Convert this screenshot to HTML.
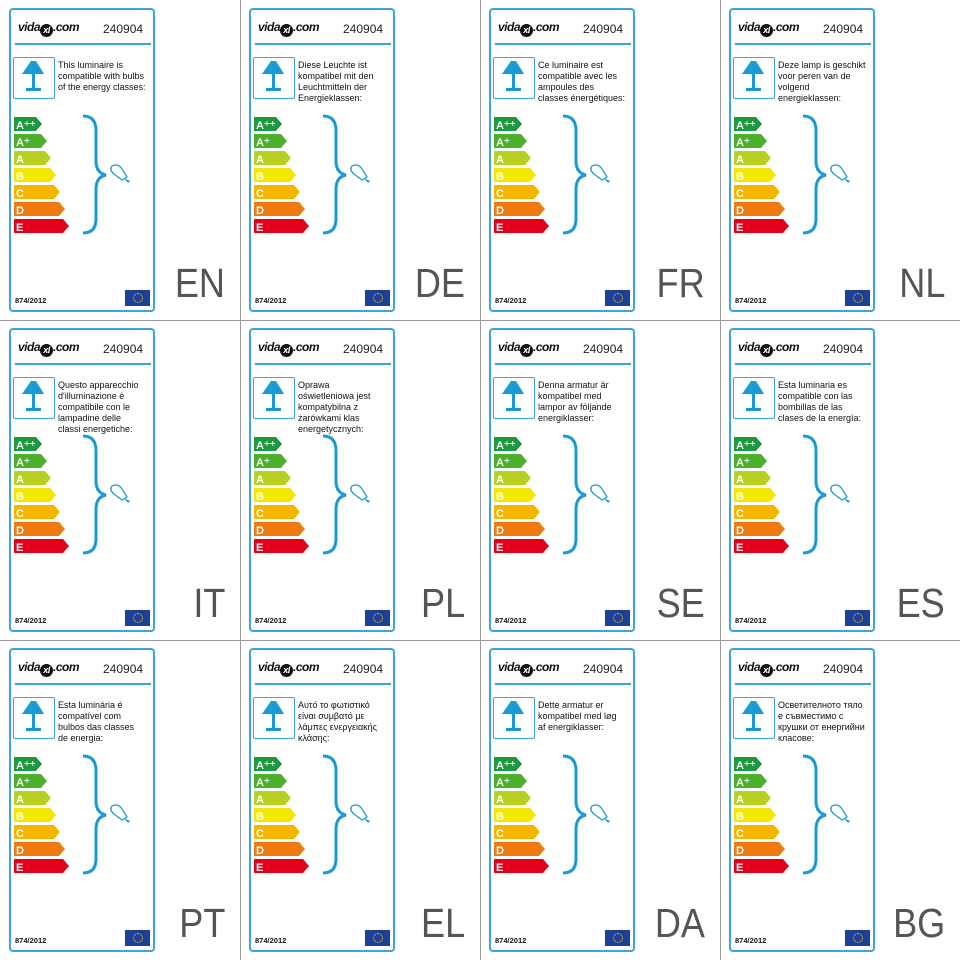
<!DOCTYPE html>
<html><head><meta charset="utf-8"><style>
body{margin:0;width:960px;height:960px;background:#fff;position:relative;overflow:hidden;font-family:"Liberation Sans","Noto Sans CJK SC",sans-serif}
.c{position:absolute;width:240px;height:320px}
.card{position:absolute;left:9px;top:8px;width:142px;height:300px;border:2px solid #3aa6dc;border-radius:4px}
.logo{position:absolute;left:18px;top:20px;font:italic bold 12px "Liberation Sans",sans-serif;color:#111;letter-spacing:-0.5px}
.logo i{display:inline-block;width:13px;height:13px;border-radius:50%;background:#111;color:#fff;font-size:9px;text-align:center;line-height:13px;vertical-align:-2px}
.num{position:absolute;left:103px;top:22px;font-size:12px;color:#222}
.hl{position:absolute;left:15px;top:43px;width:136px;height:2px;background:#3aa6dc}
.lamp{position:absolute;left:13px;top:57px;width:40px;height:40px;border:1.5px solid #3aa6dc;border-radius:2px}
.t{position:absolute;left:58px;top:60px;width:88px;font-size:9px;line-height:11px;color:#111}
.reg{position:absolute;left:15px;top:296px;font-size:7.5px;font-weight:bold;color:#111}
.eu{position:absolute;left:125px;top:290px;width:25px;height:16px;background:#1d3f9c}
.eu:after{content:"";position:absolute;left:8px;top:3px;width:8px;height:8px;border:1px dotted #ffdd00;border-radius:50%}
.lg{position:absolute;right:15px;top:260px;font-size:41px;color:#555;font-family:"Liberation Sans",sans-serif;transform:scaleX(0.88);transform-origin:right}
svg.a{position:absolute;left:0;top:0}
.gl{position:absolute;background:#999}
</style></head><body>
<div class="gl" style="left:240px;top:0;width:1px;height:960px"></div>
<div class="gl" style="left:480px;top:0;width:1px;height:960px"></div>
<div class="gl" style="left:720px;top:0;width:1px;height:960px"></div>
<div class="gl" style="left:0;top:320px;width:960px;height:1px"></div>
<div class="gl" style="left:0;top:640px;width:960px;height:1px"></div>

<div class="c" style="left:0;top:0"><div class="card"></div><div class="logo">vida<i>xl</i>.com</div><div class="num">240904</div><div class="hl"></div><div class="lamp"></div><div class="t">This luminaire is compatible with bulbs of the energy classes:</div><div class="reg">874/2012</div><div class="eu"></div><div class="lg">EN</div>
<svg class="a" width="240" height="320"><g font-family="Liberation Sans" font-weight="bold" font-size="11" fill="#fff"><path d="M14 117h22l6 7-6 7H14z" fill="#1a9a3a"/><text x="16" y="129">A⁺⁺</text><path d="M14 134h27l6 7-6 7H14z" fill="#4caf2c"/><text x="16" y="146">A⁺</text><path d="M14 151h31l6 7-6 7H14z" fill="#b8d020"/><text x="16" y="163">A</text><path d="M14 168h36l6 7-6 7H14z" fill="#f5e800"/><text x="16" y="180">B</text><path d="M14 185h40l6 7-6 7H14z" fill="#f7b500"/><text x="16" y="197">C</text><path d="M14 202h45l6 7-6 7H14z" fill="#ee7a10"/><text x="16" y="214">D</text><path d="M14 219h49l6 7-6 7H14z" fill="#e2001a"/><text x="16" y="231">E</text></g><path d="M83 116q13 0 13 15v30q0 12 10 14q-10 2-10 14v30q0 14-13 14" fill="none" stroke="#1a9ad6" stroke-width="3"/><g fill="none" stroke="#1a9ad6" stroke-width="1.3"><path d="M112 166q6-3 10 3l5 8-5 3-8-6q-5-4-2-8z"/></g><path d="M124 178l4 5 2-2z" fill="#1a9ad6"/><path d="M31 61l-9 13h22l-8-13z M32 74h3v14h-3z M26 88h15v3H26z" fill="#1a9ad6"/></svg></div>

<div class="c" style="left:240px;top:0"><div class="card"></div><div class="logo">vida<i>xl</i>.com</div><div class="num">240904</div><div class="hl"></div><div class="lamp"></div><div class="t">Diese Leuchte ist kompatibel mit den Leuchtmitteln der Energieklassen:</div><div class="reg">874/2012</div><div class="eu"></div><div class="lg">DE</div>
<svg class="a" width="240" height="320"><g font-family="Liberation Sans" font-weight="bold" font-size="11" fill="#fff"><path d="M14 117h22l6 7-6 7H14z" fill="#1a9a3a"/><text x="16" y="129">A⁺⁺</text><path d="M14 134h27l6 7-6 7H14z" fill="#4caf2c"/><text x="16" y="146">A⁺</text><path d="M14 151h31l6 7-6 7H14z" fill="#b8d020"/><text x="16" y="163">A</text><path d="M14 168h36l6 7-6 7H14z" fill="#f5e800"/><text x="16" y="180">B</text><path d="M14 185h40l6 7-6 7H14z" fill="#f7b500"/><text x="16" y="197">C</text><path d="M14 202h45l6 7-6 7H14z" fill="#ee7a10"/><text x="16" y="214">D</text><path d="M14 219h49l6 7-6 7H14z" fill="#e2001a"/><text x="16" y="231">E</text></g><path d="M83 116q13 0 13 15v30q0 12 10 14q-10 2-10 14v30q0 14-13 14" fill="none" stroke="#1a9ad6" stroke-width="3"/><g fill="none" stroke="#1a9ad6" stroke-width="1.3"><path d="M112 166q6-3 10 3l5 8-5 3-8-6q-5-4-2-8z"/></g><path d="M124 178l4 5 2-2z" fill="#1a9ad6"/><path d="M31 61l-9 13h22l-8-13z M32 74h3v14h-3z M26 88h15v3H26z" fill="#1a9ad6"/></svg></div>

<div class="c" style="left:480px;top:0"><div class="card"></div><div class="logo">vida<i>xl</i>.com</div><div class="num">240904</div><div class="hl"></div><div class="lamp"></div><div class="t">Ce luminaire est compatible avec les ampoules des classes énergétiques:</div><div class="reg">874/2012</div><div class="eu"></div><div class="lg">FR</div>
<svg class="a" width="240" height="320"><g font-family="Liberation Sans" font-weight="bold" font-size="11" fill="#fff"><path d="M14 117h22l6 7-6 7H14z" fill="#1a9a3a"/><text x="16" y="129">A⁺⁺</text><path d="M14 134h27l6 7-6 7H14z" fill="#4caf2c"/><text x="16" y="146">A⁺</text><path d="M14 151h31l6 7-6 7H14z" fill="#b8d020"/><text x="16" y="163">A</text><path d="M14 168h36l6 7-6 7H14z" fill="#f5e800"/><text x="16" y="180">B</text><path d="M14 185h40l6 7-6 7H14z" fill="#f7b500"/><text x="16" y="197">C</text><path d="M14 202h45l6 7-6 7H14z" fill="#ee7a10"/><text x="16" y="214">D</text><path d="M14 219h49l6 7-6 7H14z" fill="#e2001a"/><text x="16" y="231">E</text></g><path d="M83 116q13 0 13 15v30q0 12 10 14q-10 2-10 14v30q0 14-13 14" fill="none" stroke="#1a9ad6" stroke-width="3"/><g fill="none" stroke="#1a9ad6" stroke-width="1.3"><path d="M112 166q6-3 10 3l5 8-5 3-8-6q-5-4-2-8z"/></g><path d="M124 178l4 5 2-2z" fill="#1a9ad6"/><path d="M31 61l-9 13h22l-8-13z M32 74h3v14h-3z M26 88h15v3H26z" fill="#1a9ad6"/></svg></div>

<div class="c" style="left:720px;top:0"><div class="card"></div><div class="logo">vida<i>xl</i>.com</div><div class="num">240904</div><div class="hl"></div><div class="lamp"></div><div class="t">Deze lamp is geschikt voor peren van de volgend energieklassen:</div><div class="reg">874/2012</div><div class="eu"></div><div class="lg">NL</div>
<svg class="a" width="240" height="320"><g font-family="Liberation Sans" font-weight="bold" font-size="11" fill="#fff"><path d="M14 117h22l6 7-6 7H14z" fill="#1a9a3a"/><text x="16" y="129">A⁺⁺</text><path d="M14 134h27l6 7-6 7H14z" fill="#4caf2c"/><text x="16" y="146">A⁺</text><path d="M14 151h31l6 7-6 7H14z" fill="#b8d020"/><text x="16" y="163">A</text><path d="M14 168h36l6 7-6 7H14z" fill="#f5e800"/><text x="16" y="180">B</text><path d="M14 185h40l6 7-6 7H14z" fill="#f7b500"/><text x="16" y="197">C</text><path d="M14 202h45l6 7-6 7H14z" fill="#ee7a10"/><text x="16" y="214">D</text><path d="M14 219h49l6 7-6 7H14z" fill="#e2001a"/><text x="16" y="231">E</text></g><path d="M83 116q13 0 13 15v30q0 12 10 14q-10 2-10 14v30q0 14-13 14" fill="none" stroke="#1a9ad6" stroke-width="3"/><g fill="none" stroke="#1a9ad6" stroke-width="1.3"><path d="M112 166q6-3 10 3l5 8-5 3-8-6q-5-4-2-8z"/></g><path d="M124 178l4 5 2-2z" fill="#1a9ad6"/><path d="M31 61l-9 13h22l-8-13z M32 74h3v14h-3z M26 88h15v3H26z" fill="#1a9ad6"/></svg></div>

<div class="c" style="left:0;top:320px"><div class="card"></div><div class="logo">vida<i>xl</i>.com</div><div class="num">240904</div><div class="hl"></div><div class="lamp"></div><div class="t">Questo apparecchio d'illuminazione è compatibile con le lampadine delle classi energetiche:</div><div class="reg">874/2012</div><div class="eu"></div><div class="lg">IT</div>
<svg class="a" width="240" height="320"><g font-family="Liberation Sans" font-weight="bold" font-size="11" fill="#fff"><path d="M14 117h22l6 7-6 7H14z" fill="#1a9a3a"/><text x="16" y="129">A⁺⁺</text><path d="M14 134h27l6 7-6 7H14z" fill="#4caf2c"/><text x="16" y="146">A⁺</text><path d="M14 151h31l6 7-6 7H14z" fill="#b8d020"/><text x="16" y="163">A</text><path d="M14 168h36l6 7-6 7H14z" fill="#f5e800"/><text x="16" y="180">B</text><path d="M14 185h40l6 7-6 7H14z" fill="#f7b500"/><text x="16" y="197">C</text><path d="M14 202h45l6 7-6 7H14z" fill="#ee7a10"/><text x="16" y="214">D</text><path d="M14 219h49l6 7-6 7H14z" fill="#e2001a"/><text x="16" y="231">E</text></g><path d="M83 116q13 0 13 15v30q0 12 10 14q-10 2-10 14v30q0 14-13 14" fill="none" stroke="#1a9ad6" stroke-width="3"/><g fill="none" stroke="#1a9ad6" stroke-width="1.3"><path d="M112 166q6-3 10 3l5 8-5 3-8-6q-5-4-2-8z"/></g><path d="M124 178l4 5 2-2z" fill="#1a9ad6"/><path d="M31 61l-9 13h22l-8-13z M32 74h3v14h-3z M26 88h15v3H26z" fill="#1a9ad6"/></svg></div>

<div class="c" style="left:240px;top:320px"><div class="card"></div><div class="logo">vida<i>xl</i>.com</div><div class="num">240904</div><div class="hl"></div><div class="lamp"></div><div class="t">Oprawa oświetleniowa jest kompatybilna z żarówkami klas energetycznych:</div><div class="reg">874/2012</div><div class="eu"></div><div class="lg">PL</div>
<svg class="a" width="240" height="320"><g font-family="Liberation Sans" font-weight="bold" font-size="11" fill="#fff"><path d="M14 117h22l6 7-6 7H14z" fill="#1a9a3a"/><text x="16" y="129">A⁺⁺</text><path d="M14 134h27l6 7-6 7H14z" fill="#4caf2c"/><text x="16" y="146">A⁺</text><path d="M14 151h31l6 7-6 7H14z" fill="#b8d020"/><text x="16" y="163">A</text><path d="M14 168h36l6 7-6 7H14z" fill="#f5e800"/><text x="16" y="180">B</text><path d="M14 185h40l6 7-6 7H14z" fill="#f7b500"/><text x="16" y="197">C</text><path d="M14 202h45l6 7-6 7H14z" fill="#ee7a10"/><text x="16" y="214">D</text><path d="M14 219h49l6 7-6 7H14z" fill="#e2001a"/><text x="16" y="231">E</text></g><path d="M83 116q13 0 13 15v30q0 12 10 14q-10 2-10 14v30q0 14-13 14" fill="none" stroke="#1a9ad6" stroke-width="3"/><g fill="none" stroke="#1a9ad6" stroke-width="1.3"><path d="M112 166q6-3 10 3l5 8-5 3-8-6q-5-4-2-8z"/></g><path d="M124 178l4 5 2-2z" fill="#1a9ad6"/><path d="M31 61l-9 13h22l-8-13z M32 74h3v14h-3z M26 88h15v3H26z" fill="#1a9ad6"/></svg></div>

<div class="c" style="left:480px;top:320px"><div class="card"></div><div class="logo">vida<i>xl</i>.com</div><div class="num">240904</div><div class="hl"></div><div class="lamp"></div><div class="t">Denna armatur är kompatibel med lampor av följande energiklasser:</div><div class="reg">874/2012</div><div class="eu"></div><div class="lg">SE</div>
<svg class="a" width="240" height="320"><g font-family="Liberation Sans" font-weight="bold" font-size="11" fill="#fff"><path d="M14 117h22l6 7-6 7H14z" fill="#1a9a3a"/><text x="16" y="129">A⁺⁺</text><path d="M14 134h27l6 7-6 7H14z" fill="#4caf2c"/><text x="16" y="146">A⁺</text><path d="M14 151h31l6 7-6 7H14z" fill="#b8d020"/><text x="16" y="163">A</text><path d="M14 168h36l6 7-6 7H14z" fill="#f5e800"/><text x="16" y="180">B</text><path d="M14 185h40l6 7-6 7H14z" fill="#f7b500"/><text x="16" y="197">C</text><path d="M14 202h45l6 7-6 7H14z" fill="#ee7a10"/><text x="16" y="214">D</text><path d="M14 219h49l6 7-6 7H14z" fill="#e2001a"/><text x="16" y="231">E</text></g><path d="M83 116q13 0 13 15v30q0 12 10 14q-10 2-10 14v30q0 14-13 14" fill="none" stroke="#1a9ad6" stroke-width="3"/><g fill="none" stroke="#1a9ad6" stroke-width="1.3"><path d="M112 166q6-3 10 3l5 8-5 3-8-6q-5-4-2-8z"/></g><path d="M124 178l4 5 2-2z" fill="#1a9ad6"/><path d="M31 61l-9 13h22l-8-13z M32 74h3v14h-3z M26 88h15v3H26z" fill="#1a9ad6"/></svg></div>

<div class="c" style="left:720px;top:320px"><div class="card"></div><div class="logo">vida<i>xl</i>.com</div><div class="num">240904</div><div class="hl"></div><div class="lamp"></div><div class="t">Esta luminaria es compatible con las bombillas de las clases de la energía:</div><div class="reg">874/2012</div><div class="eu"></div><div class="lg">ES</div>
<svg class="a" width="240" height="320"><g font-family="Liberation Sans" font-weight="bold" font-size="11" fill="#fff"><path d="M14 117h22l6 7-6 7H14z" fill="#1a9a3a"/><text x="16" y="129">A⁺⁺</text><path d="M14 134h27l6 7-6 7H14z" fill="#4caf2c"/><text x="16" y="146">A⁺</text><path d="M14 151h31l6 7-6 7H14z" fill="#b8d020"/><text x="16" y="163">A</text><path d="M14 168h36l6 7-6 7H14z" fill="#f5e800"/><text x="16" y="180">B</text><path d="M14 185h40l6 7-6 7H14z" fill="#f7b500"/><text x="16" y="197">C</text><path d="M14 202h45l6 7-6 7H14z" fill="#ee7a10"/><text x="16" y="214">D</text><path d="M14 219h49l6 7-6 7H14z" fill="#e2001a"/><text x="16" y="231">E</text></g><path d="M83 116q13 0 13 15v30q0 12 10 14q-10 2-10 14v30q0 14-13 14" fill="none" stroke="#1a9ad6" stroke-width="3"/><g fill="none" stroke="#1a9ad6" stroke-width="1.3"><path d="M112 166q6-3 10 3l5 8-5 3-8-6q-5-4-2-8z"/></g><path d="M124 178l4 5 2-2z" fill="#1a9ad6"/><path d="M31 61l-9 13h22l-8-13z M32 74h3v14h-3z M26 88h15v3H26z" fill="#1a9ad6"/></svg></div>

<div class="c" style="left:0;top:640px"><div class="card"></div><div class="logo">vida<i>xl</i>.com</div><div class="num">240904</div><div class="hl"></div><div class="lamp"></div><div class="t">Esta luminária é compatível com bulbos das classes de energia:</div><div class="reg">874/2012</div><div class="eu"></div><div class="lg">PT</div>
<svg class="a" width="240" height="320"><g font-family="Liberation Sans" font-weight="bold" font-size="11" fill="#fff"><path d="M14 117h22l6 7-6 7H14z" fill="#1a9a3a"/><text x="16" y="129">A⁺⁺</text><path d="M14 134h27l6 7-6 7H14z" fill="#4caf2c"/><text x="16" y="146">A⁺</text><path d="M14 151h31l6 7-6 7H14z" fill="#b8d020"/><text x="16" y="163">A</text><path d="M14 168h36l6 7-6 7H14z" fill="#f5e800"/><text x="16" y="180">B</text><path d="M14 185h40l6 7-6 7H14z" fill="#f7b500"/><text x="16" y="197">C</text><path d="M14 202h45l6 7-6 7H14z" fill="#ee7a10"/><text x="16" y="214">D</text><path d="M14 219h49l6 7-6 7H14z" fill="#e2001a"/><text x="16" y="231">E</text></g><path d="M83 116q13 0 13 15v30q0 12 10 14q-10 2-10 14v30q0 14-13 14" fill="none" stroke="#1a9ad6" stroke-width="3"/><g fill="none" stroke="#1a9ad6" stroke-width="1.3"><path d="M112 166q6-3 10 3l5 8-5 3-8-6q-5-4-2-8z"/></g><path d="M124 178l4 5 2-2z" fill="#1a9ad6"/><path d="M31 61l-9 13h22l-8-13z M32 74h3v14h-3z M26 88h15v3H26z" fill="#1a9ad6"/></svg></div>

<div class="c" style="left:240px;top:640px"><div class="card"></div><div class="logo">vida<i>xl</i>.com</div><div class="num">240904</div><div class="hl"></div><div class="lamp"></div><div class="t">Αυτό το φωτιστικό είναι συμβατό με λάμπες ενεργειακής κλάσης:</div><div class="reg">874/2012</div><div class="eu"></div><div class="lg">EL</div>
<svg class="a" width="240" height="320"><g font-family="Liberation Sans" font-weight="bold" font-size="11" fill="#fff"><path d="M14 117h22l6 7-6 7H14z" fill="#1a9a3a"/><text x="16" y="129">A⁺⁺</text><path d="M14 134h27l6 7-6 7H14z" fill="#4caf2c"/><text x="16" y="146">A⁺</text><path d="M14 151h31l6 7-6 7H14z" fill="#b8d020"/><text x="16" y="163">A</text><path d="M14 168h36l6 7-6 7H14z" fill="#f5e800"/><text x="16" y="180">B</text><path d="M14 185h40l6 7-6 7H14z" fill="#f7b500"/><text x="16" y="197">C</text><path d="M14 202h45l6 7-6 7H14z" fill="#ee7a10"/><text x="16" y="214">D</text><path d="M14 219h49l6 7-6 7H14z" fill="#e2001a"/><text x="16" y="231">E</text></g><path d="M83 116q13 0 13 15v30q0 12 10 14q-10 2-10 14v30q0 14-13 14" fill="none" stroke="#1a9ad6" stroke-width="3"/><g fill="none" stroke="#1a9ad6" stroke-width="1.3"><path d="M112 166q6-3 10 3l5 8-5 3-8-6q-5-4-2-8z"/></g><path d="M124 178l4 5 2-2z" fill="#1a9ad6"/><path d="M31 61l-9 13h22l-8-13z M32 74h3v14h-3z M26 88h15v3H26z" fill="#1a9ad6"/></svg></div>

<div class="c" style="left:480px;top:640px"><div class="card"></div><div class="logo">vida<i>xl</i>.com</div><div class="num">240904</div><div class="hl"></div><div class="lamp"></div><div class="t">Dette armatur er kompatibel med løg af energiklasser:</div><div class="reg">874/2012</div><div class="eu"></div><div class="lg">DA</div>
<svg class="a" width="240" height="320"><g font-family="Liberation Sans" font-weight="bold" font-size="11" fill="#fff"><path d="M14 117h22l6 7-6 7H14z" fill="#1a9a3a"/><text x="16" y="129">A⁺⁺</text><path d="M14 134h27l6 7-6 7H14z" fill="#4caf2c"/><text x="16" y="146">A⁺</text><path d="M14 151h31l6 7-6 7H14z" fill="#b8d020"/><text x="16" y="163">A</text><path d="M14 168h36l6 7-6 7H14z" fill="#f5e800"/><text x="16" y="180">B</text><path d="M14 185h40l6 7-6 7H14z" fill="#f7b500"/><text x="16" y="197">C</text><path d="M14 202h45l6 7-6 7H14z" fill="#ee7a10"/><text x="16" y="214">D</text><path d="M14 219h49l6 7-6 7H14z" fill="#e2001a"/><text x="16" y="231">E</text></g><path d="M83 116q13 0 13 15v30q0 12 10 14q-10 2-10 14v30q0 14-13 14" fill="none" stroke="#1a9ad6" stroke-width="3"/><g fill="none" stroke="#1a9ad6" stroke-width="1.3"><path d="M112 166q6-3 10 3l5 8-5 3-8-6q-5-4-2-8z"/></g><path d="M124 178l4 5 2-2z" fill="#1a9ad6"/><path d="M31 61l-9 13h22l-8-13z M32 74h3v14h-3z M26 88h15v3H26z" fill="#1a9ad6"/></svg></div>

<div class="c" style="left:720px;top:640px"><div class="card"></div><div class="logo">vida<i>xl</i>.com</div><div class="num">240904</div><div class="hl"></div><div class="lamp"></div><div class="t">Осветителното тяло е съвместимо с крушки от енергийни класове:</div><div class="reg">874/2012</div><div class="eu"></div><div class="lg">BG</div>
<svg class="a" width="240" height="320"><g font-family="Liberation Sans" font-weight="bold" font-size="11" fill="#fff"><path d="M14 117h22l6 7-6 7H14z" fill="#1a9a3a"/><text x="16" y="129">A⁺⁺</text><path d="M14 134h27l6 7-6 7H14z" fill="#4caf2c"/><text x="16" y="146">A⁺</text><path d="M14 151h31l6 7-6 7H14z" fill="#b8d020"/><text x="16" y="163">A</text><path d="M14 168h36l6 7-6 7H14z" fill="#f5e800"/><text x="16" y="180">B</text><path d="M14 185h40l6 7-6 7H14z" fill="#f7b500"/><text x="16" y="197">C</text><path d="M14 202h45l6 7-6 7H14z" fill="#ee7a10"/><text x="16" y="214">D</text><path d="M14 219h49l6 7-6 7H14z" fill="#e2001a"/><text x="16" y="231">E</text></g><path d="M83 116q13 0 13 15v30q0 12 10 14q-10 2-10 14v30q0 14-13 14" fill="none" stroke="#1a9ad6" stroke-width="3"/><g fill="none" stroke="#1a9ad6" stroke-width="1.3"><path d="M112 166q6-3 10 3l5 8-5 3-8-6q-5-4-2-8z"/></g><path d="M124 178l4 5 2-2z" fill="#1a9ad6"/><path d="M31 61l-9 13h22l-8-13z M32 74h3v14h-3z M26 88h15v3H26z" fill="#1a9ad6"/></svg></div>
</body></html>
